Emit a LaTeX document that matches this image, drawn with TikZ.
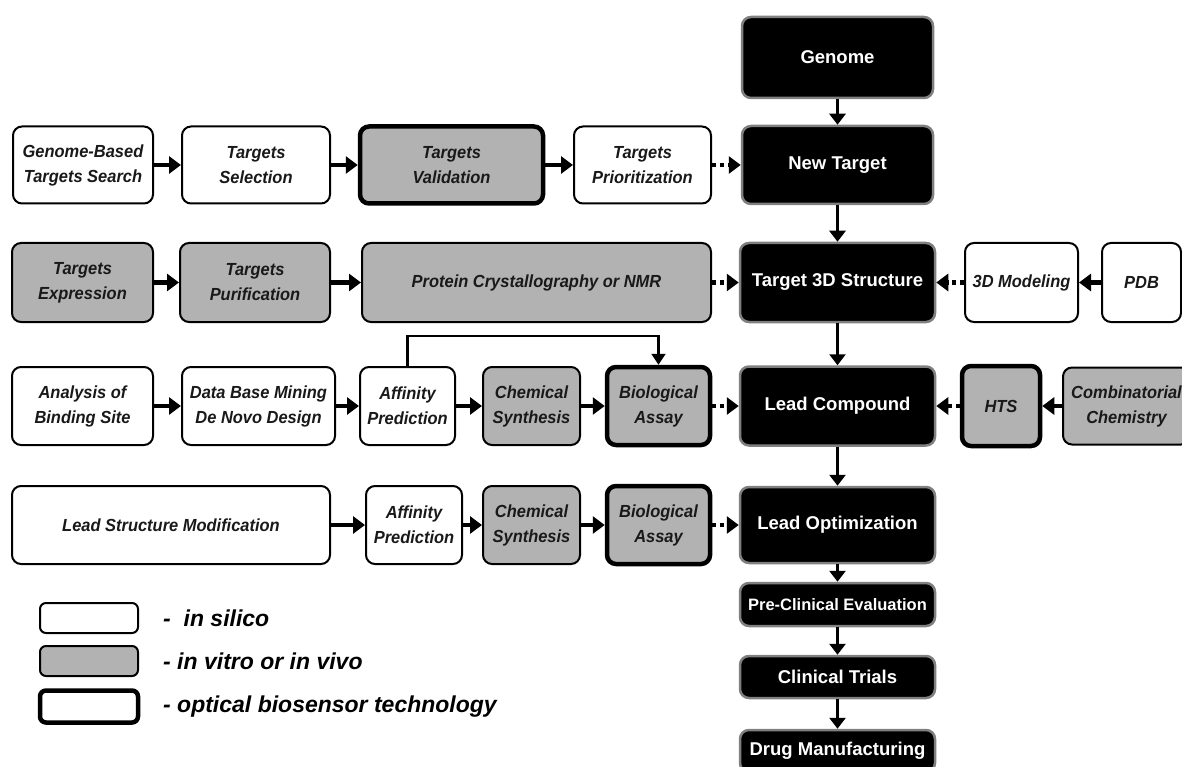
\documentclass[tikz,border=0pt]{standalone}
\usepackage{fontspec}
\setmainfont{Liberation Sans}
\newfontfamily\boxfont[FakeStretch=0.94]{Liberation Sans}
\usetikzlibrary{arrows.meta}
\definecolor{boxgray}{gray}{0.70}
\begin{document}
\begin{tikzpicture}[x=1pt,y=-1pt,
  base/.style={rectangle, rounded corners=9pt, align=center, inner sep=0pt, text=black!90,
    font=\boxfont\fontsize{17.5}{25}\selectfont\bfseries\itshape},
  wbox/.style={base, draw=black, line width=2pt, fill=white},
  gbox/.style={base, draw=black, line width=2pt, fill=boxgray},
  obox/.style={line width=4.5pt},
  kbox/.style={rectangle, rounded corners=9pt, align=center, inner sep=0pt, fill=black,
    draw=black!50, line width=2.5pt, text=white, font=\fontsize{18.5}{22}\selectfont\bfseries},
  arr/.style={line width=4.5pt, -{Triangle[length=12pt,width=17pt]}},
  darr/.style={arr, dash pattern=on 4pt off 4pt},
  varr/.style={line width=3pt, -{Triangle[length=11pt,width=16pt]}},
  thinarr/.style={line width=2.2pt, -{Triangle[length=11pt,width=14pt]}},
  legtext/.style={anchor=west, inner sep=0pt, font=\fontsize{23}{26}\selectfont\bfseries\itshape}
]
\useasboundingbox (0,0) rectangle (1182,767);
\fill[white] (0,0) rectangle (1182,767);

% main column
\node[kbox, minimum width=191, minimum height=81] (gen) at (837.5,57.5) {Genome};
\node[kbox, minimum width=191, minimum height=78] (newt) at (837.5,165) {New Target};
\node[kbox, minimum width=195, minimum height=79] (t3d) at (837.5,282.5) {Target 3D Structure};
\node[kbox, minimum width=195, minimum height=79] (lc) at (837.5,406) {Lead Compound};
\node[kbox, minimum width=195, minimum height=76] (lo) at (837.5,525) {Lead Optimization};
\node[kbox, minimum width=195, minimum height=43, font=\fontsize{16.5}{20}\selectfont\bfseries] (pce) at (837.5,604.5) {Pre-Clinical Evaluation};
\node[kbox, minimum width=195, minimum height=42] (ct) at (837.5,677) {Clinical Trials};
\node[kbox, minimum width=195, minimum height=42] (dm) at (837.5,751) {Drug Manufacturing};

% row 2
\node[wbox, minimum width=140, minimum height=77] (gb) at (83,165) {Genome-Based\\Targets Search};
\node[wbox, minimum width=148, minimum height=77] (sel) at (256,165) {Targets\\Selection};
\node[gbox, obox, minimum width=183, minimum height=77] (val) at (451.5,165) {Targets\\Validation};
\node[wbox, minimum width=137, minimum height=77] (pri) at (642.5,165) {Targets\\Prioritization};

% row 3
\node[gbox, minimum width=141, minimum height=79] (exp) at (82.5,282.5) {Targets\\Expression};
\node[gbox, minimum width=150, minimum height=79] (pur) at (255,282.5) {Targets\\Purification};
\node[gbox, minimum width=349, minimum height=79] (pcr) at (536.5,282.5) {Protein Crystallography or NMR};
\node[wbox, minimum width=113, minimum height=79] (mod) at (1021.5,282.5) {3D Modeling};
\node[wbox, minimum width=79, minimum height=79] (pdb) at (1141.5,282.5) {PDB};

% row 4
\node[wbox, minimum width=141, minimum height=78] (abs) at (82.5,406) {Analysis of\\Binding Site};
\node[wbox, minimum width=153, minimum height=78] (dbm) at (258.5,406) {Data Base Mining\\De Novo Design};
\node[wbox, minimum width=95, minimum height=78] (aff1) at (407.5,406) {Affinity\\Prediction};
\node[gbox, minimum width=97, minimum height=78] (chem1) at (531.5,406) {Chemical\\Synthesis};
\node[gbox, obox, minimum width=103, minimum height=78] (bio1) at (658.5,406) {Biological\\Assay};
\node[gbox, obox, minimum width=78, minimum height=80] (hts) at (1001,406) {HTS};
\node[gbox, minimum width=127, minimum height=77] (comb) at (1126.5,406) {Combinatorial\\Chemistry};

% row 5
\node[wbox, minimum width=318, minimum height=78] (lsm) at (171,525) {Lead Structure Modification};
\node[wbox, minimum width=96, minimum height=78] (aff2) at (414,525) {Affinity\\Prediction};
\node[gbox, minimum width=97, minimum height=78] (chem2) at (531.5,525) {Chemical\\Synthesis};
\node[gbox, obox, minimum width=103, minimum height=78] (bio2) at (658.5,525) {Biological\\Assay};

% vertical arrows
\draw[varr] (gen) -- (newt);
\draw[varr] (newt) -- (t3d);
\draw[varr] (t3d) -- (lc);
\draw[varr] (lc) -- (lo);
\draw[varr] (lo) -- (pce);
\draw[varr] (pce) -- (ct);
\draw[varr] (ct) -- (dm);

% row 2 arrows
\draw[arr] (gb) -- (sel);
\draw[arr] (sel) -- (val);
\draw[arr] (val) -- (pri);
\draw[darr] (pri) -- (newt);

% row 3 arrows
\draw[arr] (exp) -- (pur);
\draw[arr] (pur) -- (pcr);
\draw[darr] (pcr) -- (t3d);
\draw[arr] (pdb) -- (mod);
\draw[darr] (mod) -- (t3d);

% row 4 arrows
\draw[arr] (abs) -- (dbm);
\draw[arr] (dbm) -- (aff1);
\draw[arr] (aff1) -- (chem1);
\draw[arr] (chem1) -- (bio1);
\draw[darr] (bio1) -- (lc);
\draw[arr] (comb) -- (hts);
\draw[darr] (hts) -- (lc);
\draw[thinarr] (aff1.north) -- ++(0,-30) -| (bio1.north);

% row 5 arrows
\draw[arr] (lsm) -- (aff2);
\draw[arr] (aff2) -- (chem2);
\draw[arr] (chem2) -- (bio2);
\draw[darr] (bio2) -- (lo);

% legend
\node[wbox, rounded corners=6pt, minimum width=98, minimum height=30] (lg1) at (89,618) {};
\node[gbox, rounded corners=6pt, minimum width=98, minimum height=30] (lg2) at (89,661) {};
\node[wbox, obox, rounded corners=6pt, minimum width=98, minimum height=32] (lg3) at (89,706.5) {};
\node[legtext] (lt1) at (163,618) {-\ \ in silico};
\node[legtext] (lt2) at (163,661) {- in vitro or in vivo};
\node[legtext] (lt3) at (163,706.5) {- optical biosensor technology};
\end{tikzpicture}
\end{document}
